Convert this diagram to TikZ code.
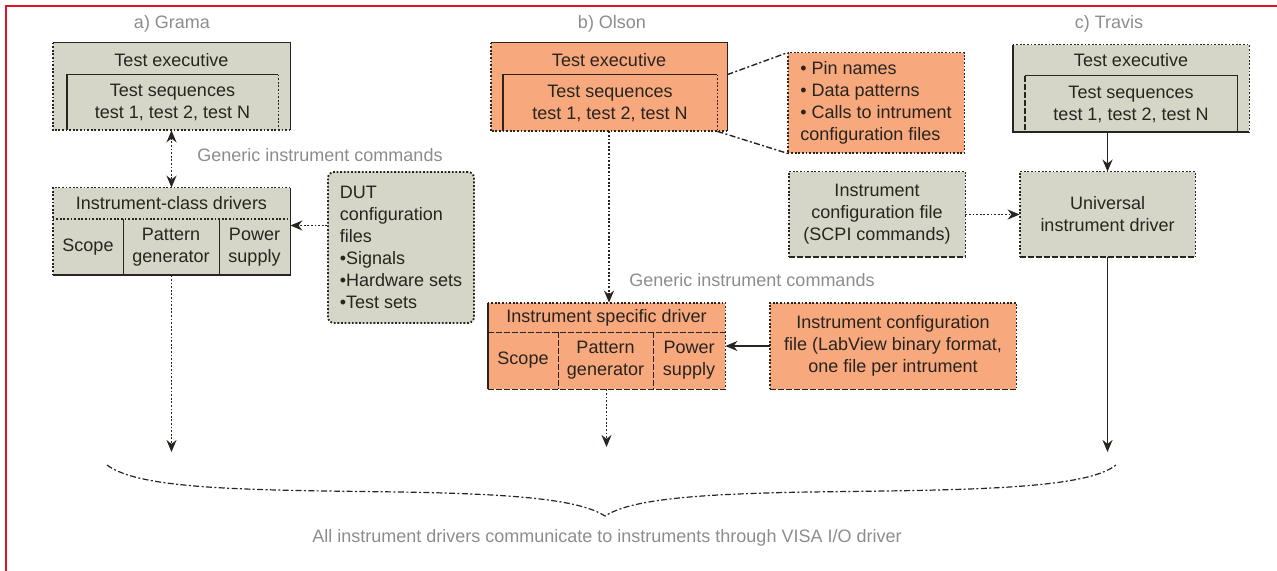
\documentclass[tikz,border=0pt]{standalone}
\usepackage{fontspec}
\setmainfont{Liberation Sans}
\usetikzlibrary{arrows.meta,fit}
\definecolor{boxgray}{RGB}{214,214,200}
\definecolor{boxorange}{RGB}{247,168,124}
\definecolor{ink}{RGB}{40,36,32}
\definecolor{labelgray}{RGB}{140,140,140}
\definecolor{framered}{RGB}{226,16,36}
\newcommand{\boxfont}{\fontsize{9}{11}\selectfont}

\begin{document}
\begin{tikzpicture}[x=0.5pt,y=-0.5pt,
    gbox/.style={fill=boxgray,inner sep=0pt},
    obox/.style={gbox,fill=boxorange},
    txt/.style={font=\boxfont,text=ink,inner sep=1pt,align=center},
    lbl/.style={font=\boxfont,text=labelgray,inner sep=1pt},
    solln/.style={draw=ink,line width=0.9pt},
    dotln/.style={draw=ink,line width=0.9pt,dash pattern=on 0.9pt off 0.9pt},
    dashln/.style={draw=ink,line width=0.9pt,dash pattern=on 3pt off 1pt},
    callln/.style={draw=ink,line width=0.7pt,dash pattern=on 3pt off 1.2pt on 1pt off 1.2pt},
    arr/.style={-{Stealth[length=6pt,width=5pt]}}]
  \useasboundingbox (0,0) rectangle (1277,571);
  \draw[framered,line width=1.2pt] (6,571) -- (6,6) -- (1277,6);

  % a) Grama
  \node[lbl] (ttlA) at (172,24) {a) Grama};
  \node[gbox,fit={(53,43)(290,130)}] (exA) {};
  \node[gbox,fit={(67,75)(278,130)}] (inA) {};
  \node[gbox,fit={(53,188)(290,275)}] (drvA) {};
  \node[gbox,fit={(53,188)(290,219)}] (hdA) {};
  \node[gbox,fit={(53,219)(123,275)}] (scA) {};
  \node[gbox,fit={(123,219)(219,275)}] (pgA) {};
  \node[gbox,fit={(219,219)(290,275)}] (psA) {};
  \node[gbox,dotln,rounded corners=3pt,fit={(328,172)(474,323)}] (dut) {};
  \node[txt] (tA) at (171.5,60) {Test executive};
  \node[txt] (sqA) at (inA) {Test sequences\\test 1, test 2, test N};
  \node[txt] (hdAt) at (hdA) {Instrument-class drivers};
  \node[txt] (scAt) at (scA) {Scope};
  \node[txt] (pgAt) at (pgA) {Pattern\\generator};
  \node[txt] (psAt) at (psA) {Power\\supply};
  \node[txt,align=left] (dutT) at (dut) {DUT\\configuration\\files\\•Signals\\•Hardware sets\\•Test sets};
  \node[lbl] (cmdA) at (320,155) {Generic instrument commands};
  \coordinate (endA) at (171.5,452);

  % b) Olson
  \node[lbl] (ttlB) at (612,24) {b) Olson};
  \node[obox,fit={(491,43)(727,131)}] (exB) {};
  \node[obox,fit={(503,75)(717,131)}] (inB) {};
  \node[obox,fit={(788,53)(964,153)}] (pins) {};
  \node[obox,fit={(488,303)(725,389)}] (spB) {};
  \node[obox,fit={(488,303)(725,332)}] (hdB) {};
  \node[obox,fit={(488,332)(558,389)}] (scB) {};
  \node[obox,fit={(558,332)(653,389)}] (pgB) {};
  \node[obox,fit={(653,332)(725,389)}] (psB) {};
  \node[obox,fit={(770,303)(1016,389)}] (lvB) {};
  \node[txt] (tB) at (609,60) {Test executive};
  \node[txt] (sqB) at (inB) {Test sequences\\test 1, test 2, test N};
  \node[txt,align=left] (pinsT) at (pins) {• Pin names\\• Data patterns\\• Calls to intrument\\configuration files};
  \node[txt] (hdBt) at (hdB) {Instrument specific driver};
  \node[txt] (scBt) at (scB) {Scope};
  \node[txt] (pgBt) at (pgB) {Pattern\\generator};
  \node[txt] (psBt) at (psB) {Power\\supply};
  \node[txt] (lvBt) at (lvB) {Instrument configuration\\file (LabView binary format,\\one file per intrument};
  \node[lbl] (cmdB) at (752,280) {Generic instrument commands};
  \coordinate (endB) at (606.5,447);

  % c) Travis
  \node[lbl] (ttlC) at (1109,24) {c) Travis};
  \node[gbox,fit={(1013,45)(1249,132)}] (exC) {};
  \node[gbox,fit={(1025,76)(1237,132)}] (inC) {};
  \node[gbox,fit={(789,172)(965,257)}] (scpi) {};
  \node[gbox,fit={(1020,172)(1195,257)}] (uniC) {};
  \node[txt] (tC) at (1131,60) {Test executive};
  \node[txt] (sqC) at (inC) {Test sequences\\test 1, test 2, test N};
  \node[txt] (scpiT) at (scpi) {Instrument\\configuration file\\(SCPI commands)};
  \node[txt] (uniT) at (uniC) {Universal\\instrument driver};
  \coordinate (endC) at (1107.5,452);

  % box edges
  \foreach \b/\i in {exA/inA,exB/inB}{
    \draw[solln] (\b.north west) -- (\b.north east) -- (\b.south east);
    \draw[dotln] (\b.north west) -- (\b.south west) -- (\b.south east);
    \draw[solln] (\i.south west) -- (\i.north west) -- (\i.north east);
    \draw[dotln] (\i.north east) -- (\i.south east);
  }
  \draw[dotln] (exC.north west) -- (exC.north east) -- (exC.south east);
  \draw[solln] (exC.north west) -- (exC.south west) -- (exC.south east);
  \draw[solln] (inC.north west) -- (inC.north east) -- (inC.south east);
  \draw[dashln] (inC.north west) -- (inC.south west);

  \draw[dotln] (drvA.south west) -- (drvA.north west) -- (drvA.north east);
  \draw[solln] (drvA.north east) -- (drvA.south east) -- (drvA.south west);
  \draw[dotln] (hdA.south west) -- (hdA.south east);
  \draw[solln] (scA.north east) -- (scA.south east) (pgA.north east) -- (pgA.south east);

  \draw[dotln] (spB.north west) -- (spB.north east) -- (spB.south east);
  \draw[solln] (spB.north west) -- (spB.south west);
  \draw[dashln] (spB.south west) -- (spB.south east) (hdB.south west) -- (hdB.south east)
    (scB.north east) -- (scB.south east) (pgB.north east) -- (pgB.south east);

  \draw[dotln] (pins.north west) rectangle (pins.south east);
  \foreach \b in {scpi,uniC,lvB}{
    \draw[dotln] (\b.south west) -- (\b.north west) -- (\b.north east) -- (\b.south east);
    \draw[dashln] (\b.south west) -- (\b.south east);
  }

  % connectors
  \draw[dotln,{Stealth[length=6pt,width=5pt]}-{Stealth[length=6pt,width=5pt]}] (exA) -- (drvA);
  \draw[dotln,arr] ([yshift=11pt]dut.west) -- ([yshift=11pt]dut.west -| drvA.east);
  \draw[dotln,arr] (drvA) -- (endA);
  \draw[dotln,arr] (exB.south) -- (exB.south |- spB.north);
  \draw[dotln,arr] (spB.south) -- (endB);
  \draw[solln,arr] (lvB.west) -- (lvB.west -| spB.east);
  \draw[callln] (exB.east |- inB.north) -- (pins.north west);
  \draw[callln] (inB.south east) -- (pins.south west);
  \draw[solln,arr] (exC.south -| uniC.north) -- (uniC.north);
  \draw[dotln,arr] (scpi) -- (uniC);
  \draw[solln,arr] (uniC) -- (endC);

  % brace and note
  \coordinate (brL) at (107,465);
  \coordinate (brTip) at (605,516);
  \coordinate (brR) at (1116,465);
  \draw[callln,line width=0.6pt] (brL) .. controls (140,490) and (250,490) .. (400,492)
    .. controls (520,494) and (580,500) .. (brTip)
    .. controls (630,500) and (690,494) .. (810,492)
    .. controls (960,490) and (1085,490) .. (brR);
  \node[lbl] (note) at (607,538) {All instrument drivers communicate to instruments through VISA I/O driver};
\end{tikzpicture}
\end{document}
